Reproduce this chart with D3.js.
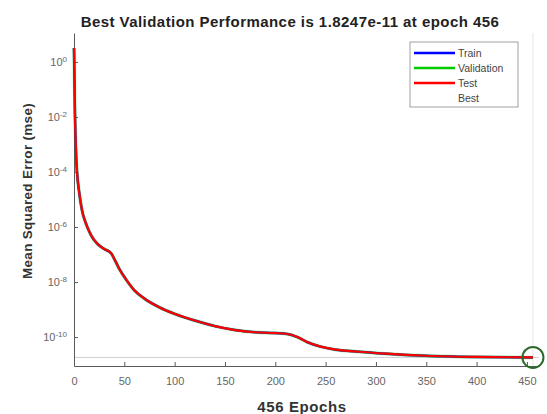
<!DOCTYPE html>
<html>
<head>
<meta charset="utf-8">
<script src="https://cdn.jsdelivr.net/npm/d3@7"></script>
<style>
  body { margin: 0; background: #fff; }
  svg { font-family: "Liberation Sans", Arial, sans-serif; }
</style>
</head>
<body>
<svg id="svg_perf" width="547" height="414"></svg>
<script>
// Data
const epochs = [0, 1, 2, 3, 5, 8, 12, 17, 23, 30, 37, 40, 45, 52, 60, 70, 85, 100, 120, 140,
    160, 180, 200, 212, 222, 232, 245, 260, 280, 310, 350, 400, 456];
const mse = [3.2, 1e-2, 5e-4, 1e-4, 2e-5, 4e-6, 1.3e-6, 5e-7, 2.5e-7, 1.6e-7, 1.1e-7, 7e-8,
    3e-8, 1.2e-8, 5e-9, 2.5e-9, 1.2e-9, 7e-10, 4e-10, 2.5e-10, 1.8e-10, 1.5e-10, 1.4e-10,
    1.3e-10, 1e-10, 6.5e-11, 4.5e-11, 3.5e-11, 3e-11, 2.5e-11, 2.1e-11, 1.9e-11, 1.8247e-11];
const series_names = ["Train", "Validation", "Test"];
const legend_names = ["Train", "Validation", "Test", "Best"];
const x_ticks = [0, 50, 100, 150, 200, 250, 300, 350, 400, 450];
const y_exps = [0, -2, -4, -6, -8, -10];
const best_epoch = 456,
    best_perf = 1.8247e-11;

const svg = d3.select("#svg_perf");

// Colors
const colors = { "Train": "#0000ff", "Validation": "#00cc00", "Test": "#ff0000", "Best": "none" },
    axis_gray = "#5a5a5a",
    best_green = "#2d6b2d";

const x_scale = d3.scaleLinear()
    .domain([0, 462])
    .range([74, 539]);

const y_scale = d3.scaleLog()
    .domain([Math.pow(10, -11.05), Math.pow(10, 1.05)])
    .range([366, 33]);

// Best guide lines
svg.append("line")
    .attr("x1", x_scale(0)).attr("x2", x_scale(462))
    .attr("y1", y_scale(best_perf)).attr("y2", y_scale(best_perf))
    .attr("stroke", "#cfcfcf").attr("stroke-width", 1);
svg.append("line")
    .attr("x1", x_scale(best_epoch)).attr("x2", x_scale(best_epoch))
    .attr("y1", y_scale.range()[1]).attr("y2", y_scale.range()[0])
    .attr("stroke", "#e6e6e6").attr("stroke-width", 1);

// Axes
const x_axis = d3.axisBottom(x_scale).tickValues(x_ticks).tickSizeInner(-4).tickSizeOuter(0).tickPadding(11);
const y_axis = d3.axisLeft(y_scale).tickValues(y_exps.map(e => Math.pow(10, e))).tickSizeInner(-4).tickSizeOuter(0).tickFormat("");

const gx = svg.append("g")
    .attr("transform", `translate(0,${y_scale.range()[0]})`)
    .call(x_axis);
gx.selectAll("text").attr("fill", "#666").style("font-size", "11px");

const gy = svg.append("g")
    .attr("transform", `translate(${x_scale(0)},0)`)
    .call(y_axis);

[gx, gy].forEach(g => {
    g.select(".domain").attr("stroke", axis_gray);
    g.selectAll(".tick line").attr("stroke", axis_gray);
});

// y tick labels as 10^n with superscripts
gy.selectAll(".tick").each(function(d) {
    const t = d3.select(this).append("text")
        .attr("x", -7).attr("dy", "0.35em")
        .attr("text-anchor", "end")
        .attr("fill", "#666")
        .style("font-size", "11px");
    t.append("tspan").text("10");
    t.append("tspan")
        .attr("dy", "-0.55em")
        .style("font-size", "8px")
        .text(Math.round(Math.log10(d)));
});

// Performance curves (all three overlap)
const line = d3.line()
    .x((d, i) => x_scale(epochs[i]))
    .y(d => y_scale(d))
    .curve(d3.curveMonotoneX);

const widths = { "Train": 2.5, "Validation": 3.5, "Test": 2.2 };
series_names.forEach(name => {
    svg.append("path")
        .datum(mse)
        .attr("d", line)
        .attr("fill", "none")
        .attr("stroke", colors[name])
        .attr("stroke-opacity", name === "Validation" ? 0.35 : 1)
        .attr("stroke-width", widths[name]);
});

// Best marker
svg.append("circle")
    .attr("cx", x_scale(best_epoch))
    .attr("cy", y_scale(best_perf))
    .attr("r", 10.5)
    .attr("fill", "none")
    .attr("stroke", best_green)
    .attr("stroke-width", 2);

// Legend
const legend = svg.append("g").attr("transform", "translate(410,42)");
legend.append("rect")
    .attr("width", 108).attr("height", 65)
    .attr("fill", "#fff").attr("stroke", "#8a8a8a").attr("stroke-width", 0.8);

legend_names.forEach((name, i) => {
    const y = 11 + i * 15;
    legend.append("line")
        .attr("x1", 4).attr("x2", 45)
        .attr("y1", y).attr("y2", y)
        .attr("stroke", colors[name])
        .attr("stroke-width", 2.5);
    legend.append("text")
        .attr("x", 48).attr("y", y).attr("dy", "0.35em")
        .attr("fill", "#444")
        .style("font-size", "10.5px")
        .text(name);
});

// Title and labels
svg.append("text")
    .attr("x", 290).attr("y", 27)
    .attr("text-anchor", "middle")
    .attr("font-weight", "bold")
    .attr("fill", "#222")
    .style("font-size", "15px")
    .style("letter-spacing", "0.45px")
    .text(`Best Validation Performance is 1.8247e-11 at epoch ${best_epoch}`);

svg.append("text")
    .attr("transform", "translate(32,191) rotate(-90)")
    .attr("text-anchor", "middle")
    .attr("font-weight", "bold")
    .attr("fill", "#333")
    .style("font-size", "13.5px")
    .style("letter-spacing", "0.3px")
    .text("Mean Squared Error  (mse)");

svg.append("text")
    .attr("x", 302).attr("y", 412)
    .attr("text-anchor", "middle")
    .attr("font-weight", "bold")
    .attr("fill", "#333")
    .style("font-size", "15px")
    .style("letter-spacing", "0.6px")
    .text(`${best_epoch} Epochs`);
</script>
</body>
</html>
